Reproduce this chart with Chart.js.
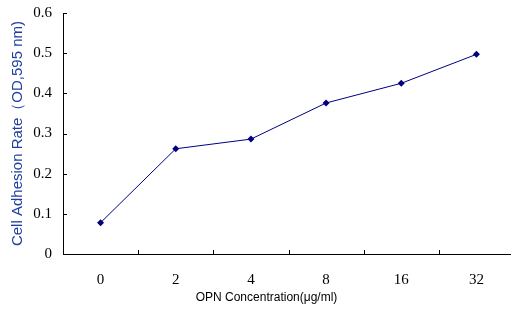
<!DOCTYPE html>
<html><head><meta charset="utf-8">
<script src="https://cdn.jsdelivr.net/npm/chart.js@4/dist/chart.umd.min.js"></script>
<style>html,body{margin:0;padding:0;overflow:hidden;background:#fff;width:511px;height:312px}#wrap{width:520px;height:312px}</style>
</head><body><div id="wrap"><canvas id="c" width="520" height="312"></canvas></div>
<script>
const categories = ['0', '2', '4', '8', '16', '32'];
const adhesion = [0.078, 0.262, 0.286, 0.376, 0.425, 0.497];
const yMin = 0, yMax = 0.6, yStep = 0.1;
const xTitle = 'OPN Concentration(\u03bcg/ml)';
const yTitle = 'Cell Adhesion Rate\uff08OD,595 nm)';

const innerTicks = {
  id: 'innerTicks',
  afterDatasetsDraw(chart) {
    const ctx = chart.ctx, x = chart.scales.x, y = chart.scales.y;
    ctx.save();
    ctx.strokeStyle = '#000'; ctx.lineWidth = 1;
    ctx.beginPath();
    y.ticks.forEach((t, i) => {
      const py = Math.round(y.getPixelForTick(i)) + 0.5;
      ctx.moveTo(x.left, py); ctx.lineTo(x.left + 4, py);
    });
    for (let i = 0; i <= categories.length; i++) {
      const px = Math.round(x.getPixelForValue(i - 0.5)) + 0.5;
      ctx.moveTo(px, y.bottom); ctx.lineTo(px, y.bottom - 4);
    }
    ctx.stroke();
    ctx.fillStyle = '#000';
    ctx.font = '12px "Liberation Sans", Arial, sans-serif';
    ctx.textAlign = 'center'; ctx.textBaseline = 'middle';
    ctx.fillText(xTitle, (x.left + x.right) / 2 - 22, 298);
    ctx.restore();
  }
};

new Chart(document.getElementById('c'), {
  type: 'line',
  data: {
    labels: categories,
    datasets: [{
      data: adhesion,
      borderColor: '#000080',
      backgroundColor: '#000080',
      borderWidth: 1,
      pointStyle: 'rectRot',
      pointRadius: 3.5,
      pointBorderWidth: 0,
      tension: 0,
      fill: false
    }]
  },
  options: {
    responsive: false,
    animation: false,
    events: [],
    layout: { padding: { top: 13, right: 6, left: 0, bottom: 0 } },
    plugins: { legend: { display: false }, tooltip: { enabled: false } },
    scales: {
      x: {
        offset: true,
        grid: { display: false, drawTicks: false },
        border: { display: true, color: '#000', width: 1 },
        ticks: { color: '#000', padding: 17, font: { family: '"Liberation Serif", serif', size: 15 } },
        afterFit(s) { s.height = 58; s.paddingLeft = 0; s.paddingRight = 0; }
      },
      y: {
        min: yMin, max: yMax,
        grid: { display: false, drawTicks: false },
        border: { display: true, color: '#000', width: 1 },
        ticks: { stepSize: yStep, color: '#000', padding: 11,
          font: { family: '"Liberation Serif", serif', size: 15 },
          callback: v => (Math.round(v * 10) / 10).toString() },
        title: { display: true, text: yTitle, color: '#1f3f9f', padding: { top: 9, bottom: 0 },
          font: { family: '"Liberation Sans", Arial, sans-serif', size: 15 } },
        afterFit(s) { s.width = 63; s.paddingTop = 0; s.paddingBottom = 0; }
      }
    }
  },
  plugins: [innerTicks]
});
</script></body></html>
